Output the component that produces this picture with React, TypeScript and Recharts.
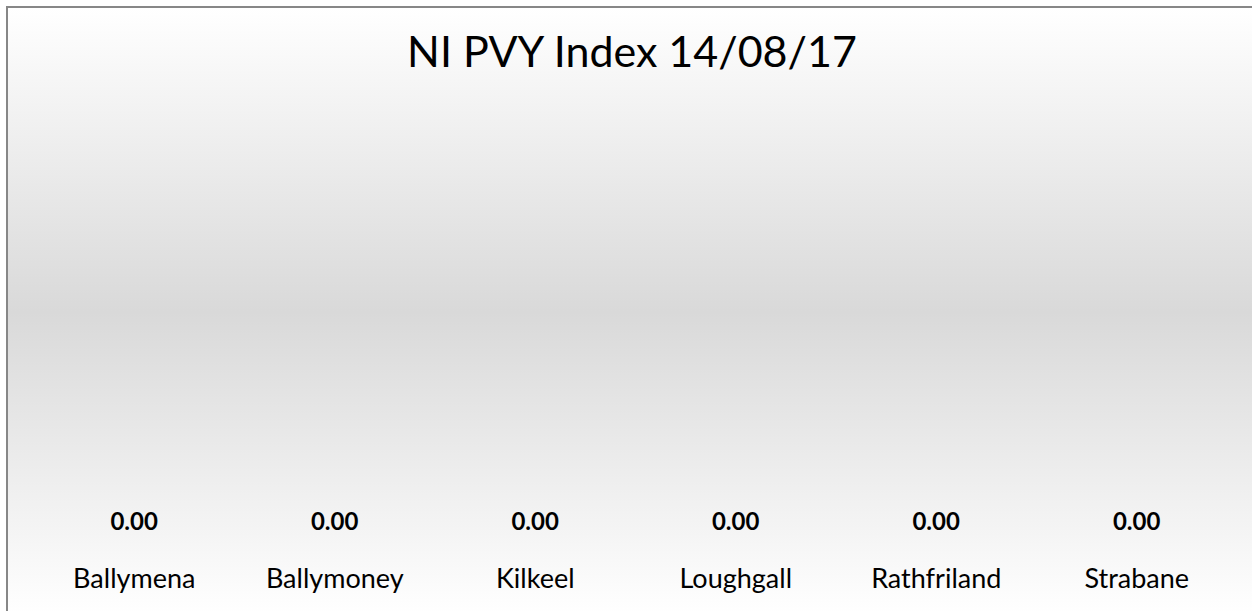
import { Bar, BarChart, LabelList, XAxis, YAxis } from 'recharts';

const sites = ['Ballymena', 'Ballymoney', 'Kilkeel', 'Loughgall', 'Rathfriland', 'Strabane'];
const pvyIndex = [0, 0, 0, 0, 0, 0];
const chartTitle = 'NI PVY Index 14/08/17';

const data = sites.map((site, i) => ({ site, value: pvyIndex[i] }));

const font = 'Lato, "Open Sans", sans-serif';

export default function App() {
  return (
    <div style={{ position: 'fixed', inset: 0, overflow: 'hidden', background: '#fff' }}>
      <div
        style={{
          position: 'absolute',
          left: 6,
          top: 6,
          width: 1248,
          height: 608,
          border: '2px solid #878787',
          background: 'linear-gradient(to bottom, #ffffff 0%, #d9d9d9 50%, #ffffff 100%)',
          fontFamily: font,
        }}
      >
        <div
          style={{
            position: 'absolute',
            top: 21,
            left: 0,
            width: 1248,
            textAlign: 'center',
            fontSize: 43,
            lineHeight: '43px',
            color: '#000',
          }}
        >
          {chartTitle}
        </div>
        <BarChart
          width={1248}
          height={608}
          data={data}
          margin={{ top: 100, right: 19, left: 26, bottom: 6 }}
          barCategoryGap="30%"
        >
          <XAxis
            dataKey="site"
            axisLine={false}
            tickLine={false}
            tickSize={0}
            tickMargin={29}
            height={70}
            interval={0}
            tick={{ fill: '#000', fontSize: 27, fontFamily: font }}
          />
          <YAxis hide domain={[0, 1]} />
          <Bar dataKey="value" fill="transparent" minPointSize={1} isAnimationActive={false}>
            <LabelList
              dataKey="value"
              position="top"
              offset={9}
              formatter={(v: number) => Number(v).toFixed(2)}
              style={{ fill: '#000', fontSize: 24, fontWeight: 700, fontFamily: font }}
            />
          </Bar>
        </BarChart>
      </div>
    </div>
  );
}
